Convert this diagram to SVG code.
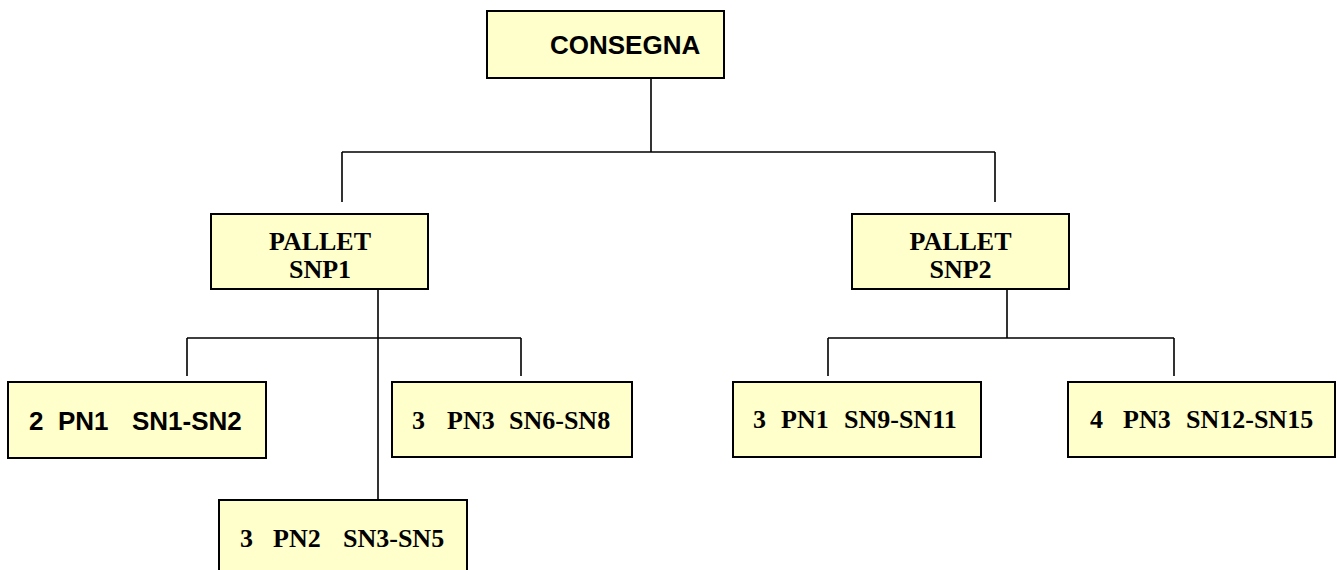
<svg xmlns="http://www.w3.org/2000/svg" width="1337" height="570" viewBox="0 0 1337 570">
<style>
.box{fill:#FFFFCC;stroke:#000;stroke-width:2}
.line{stroke:#000;stroke-width:1.6;fill:none}
.a{font-family:"Liberation Sans",Arial,sans-serif;font-weight:bold;font-size:26px;fill:#000}
.t{font-family:"Liberation Serif","Times New Roman",serif;font-weight:bold;font-size:26px;fill:#000}
</style>
<rect width="1337" height="570" fill="#fff"/>
<g id="connectors">
<path class="line" d="M651,78V152M342,152H995M342,152V202M995,152V202"/>
<path class="line" d="M378,289V500M187,338H521M187,338V376M521,338V376"/>
<path class="line" d="M1007,289V338M828,338H1174M828,338V376M1174,338V376"/>
</g>
<g id="consegna">
<rect class="box" x="487" y="11" width="237" height="67"/>
<text class="a" x="550" y="54">CONSEGNA</text>
</g>
<g id="snp1">
<rect class="box" x="211" y="214" width="217" height="75"/>
<text class="t" x="320" y="250" text-anchor="middle">PALLET</text>
<text class="t" x="320" y="278" text-anchor="middle">SNP1</text>
</g>
<g id="snp2">
<rect class="box" x="852" y="214" width="217" height="75"/>
<text class="t" x="960.5" y="250" text-anchor="middle">PALLET</text>
<text class="t" x="960.5" y="278" text-anchor="middle">SNP2</text>
</g>
<g id="pn1-sn1">
<rect class="box" x="8" y="382" width="258" height="76"/>
<text class="a" y="430"><tspan x="29">2</tspan><tspan x="58">PN1</tspan><tspan x="132">SN1-SN2</tspan></text>
</g>
<g id="pn2-sn3">
<rect class="box" x="219" y="500" width="248" height="80"/>
<text class="t" y="547"><tspan x="240">3</tspan><tspan x="273">PN2</tspan><tspan x="343">SN3-SN5</tspan></text>
</g>
<g id="pn3-sn6">
<rect class="box" x="392" y="382" width="240" height="75"/>
<text class="t" y="429"><tspan x="412">3</tspan><tspan x="447">PN3</tspan><tspan x="509">SN6-SN8</tspan></text>
</g>
<g id="pn1-sn9">
<rect class="box" x="733" y="382" width="248" height="75"/>
<text class="t" y="428"><tspan x="753">3</tspan><tspan x="781">PN1</tspan><tspan x="844">SN9-SN11</tspan></text>
</g>
<g id="pn3-sn12">
<rect class="box" x="1068" y="382" width="267" height="75"/>
<text class="t" y="428"><tspan x="1090">4</tspan><tspan x="1123">PN3</tspan><tspan x="1186">SN12-SN15</tspan></text>
</g>
</svg>
